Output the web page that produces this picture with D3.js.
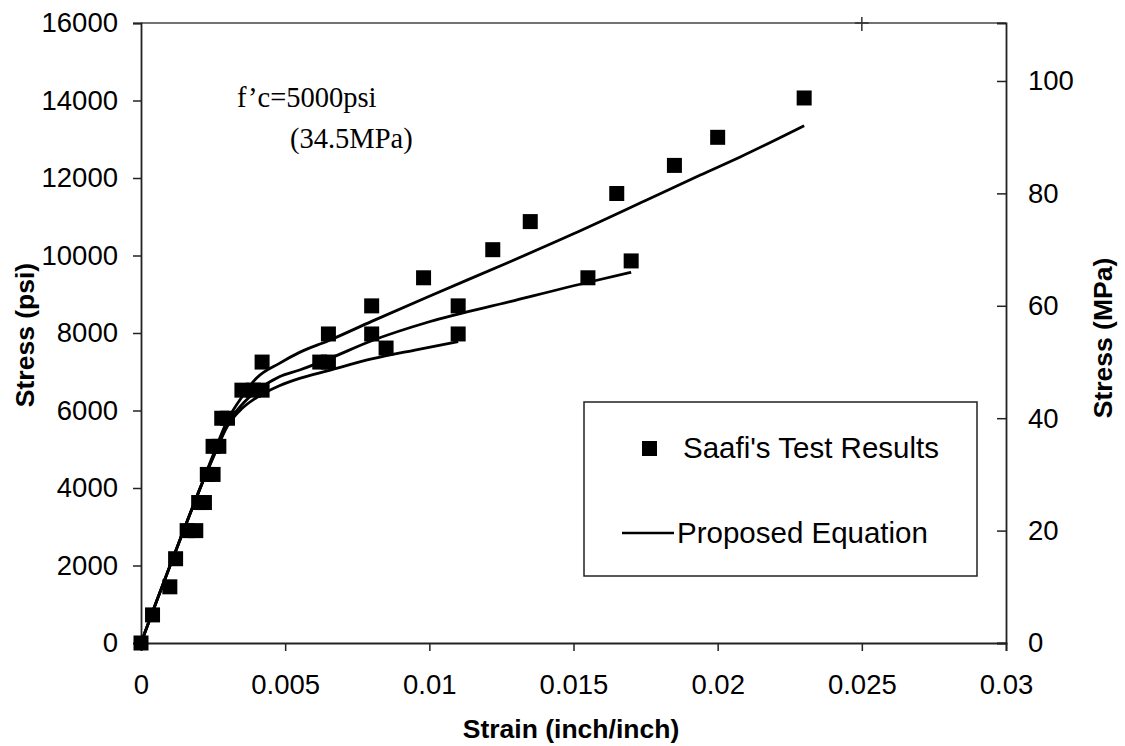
<!DOCTYPE html>
<head>
  <meta charset="utf-8">
  <script src="https://d3js.org/d3.v7.min.js"></script>
  <style>
    body { margin:0; background:#fff; }
    text { font-family: Arial, "Liberation Sans", sans-serif; }
  </style>
</head>
<body>
<script>
  // Saafi's test results (strain, psi) - three specimens
  var testA = [[0,0],[0.0004,725],[0.0010,1450],[0.0012,2175],[0.0016,2900],[0.0020,3625],
               [0.0023,4350],[0.0025,5075],[0.0028,5800],[0.0035,6525],[0.0042,7250],
               [0.0065,7975],[0.008,8700],[0.0098,9425],[0.0122,10150],[0.0135,10875],
               [0.0165,11600],[0.0185,12325],[0.020,13050],[0.023,14065]];
  var testB = [[0.0019,2900],[0.0022,3625],[0.0025,4350],[0.0027,5075],[0.0030,5800],
               [0.0039,6525],[0.0062,7250],[0.008,7975],[0.011,8700],[0.0155,9425],[0.017,9860]];
  var testC = [[0.0042,6525],[0.0065,7250],[0.0085,7612],[0.011,7975]];

  // proposed equation curves
  var curveA = [[0,0],[0.0005,1000],[0.001,1980],[0.0015,2950],[0.002,3900],[0.0025,4850],
                [0.003,5750],[0.0035,6350],[0.004,6830],[0.0048,7217],[0.0055,7500],[0.0065,7800],
                [0.008,8300],[0.010,8950],[0.0128,9840],[0.015,10560],[0.0175,11420],
                [0.0194,12077],[0.0208,12550],[0.023,13350]];
  var curveB = [[0,0],[0.0005,1000],[0.001,1980],[0.0015,2950],[0.002,3900],[0.0025,4800],
                [0.003,5650],[0.0035,6150],[0.004,6500],[0.0048,6873],[0.0055,7045],[0.0065,7330],
                [0.008,7800],[0.010,8290],[0.0128,8810],[0.0157,9342],[0.017,9566]];
  var curveC = [[0,0],[0.0005,1000],[0.001,1980],[0.0015,2950],[0.002,3900],[0.0025,4780],
                [0.003,5600],[0.0035,6050],[0.004,6330],[0.0048,6641],[0.0055,6830],[0.0065,7030],
                [0.008,7330],[0.0095,7560],[0.011,7776]];

  var xTicks = [0, 0.005, 0.01, 0.015, 0.02, 0.025, 0.03];
  var yTicks = [0, 2000, 4000, 6000, 8000, 10000, 12000, 14000, 16000];
  var mpaTicks = [0, 20, 40, 60, 80, 100];
  var psiPerMPa = 145.038;

  var width = 1125, height = 746;
  var svg = d3.select("body").append("svg")
    .attr("width", width).attr("height", height);

  var x = d3.scaleLinear().domain([0, 0.03]).range([141, 1006]);
  var y = d3.scaleLinear().domain([0, 16000]).range([643, 23]);
  var yR = d3.scaleLinear().domain([0, 16000 / psiPerMPa]).range([643, 23]);

  // top border
  svg.append("line")
    .attr("x1", x(0)).attr("x2", x(0.03))
    .attr("y1", y(16000)).attr("y2", y(16000))
    .attr("stroke", "#444").attr("stroke-width", 1.5);
  // stray tick on top
  svg.append("path")
    .attr("d", "M" + (x(0.025) - 7) + "," + y(16000) + "h14M" + x(0.025) + "," + (y(16000) - 6) + "v14")
    .attr("stroke", "#333").attr("stroke-width", 1.5);

  var axL = svg.append("g").attr("transform", "translate(" + x(0) + ",0)")
    .call(d3.axisLeft(y).tickValues(yTicks).tickSize(8).tickPadding(15).tickFormat(d3.format("d")));
  var axB = svg.append("g").attr("transform", "translate(0," + y(0) + ")")
    .call(d3.axisBottom(x).tickValues(xTicks).tickSize(8).tickPadding(23)
      .tickFormat(function(d){ return d === 0 ? "0" : String(+d.toFixed(3)); }));
  var axR = svg.append("g").attr("transform", "translate(" + x(0.03) + ",0)")
    .call(d3.axisRight(yR).tickValues(mpaTicks).tickSize(-9).tickPadding(22).tickFormat(d3.format("d")));

  [axL, axB, axR].forEach(function(g){
    g.selectAll("path.domain").attr("stroke", "#222").attr("stroke-width", 1.8);
    g.selectAll(".tick line").attr("stroke", "#222").attr("stroke-width", 1.5);
    g.selectAll("text").attr("font-size", 27.5).attr("fill", "#000")
      .style("font-family", "Arial, 'Liberation Sans', sans-serif");
  });
  axR.selectAll(".tick text").attr("x", 22);

  // axis titles
  svg.append("text").attr("x", 571).attr("y", 738).attr("text-anchor", "middle")
    .attr("font-size", 26.5).attr("font-weight", "bold").text("Strain (inch/inch)");
  svg.append("text").attr("transform", "translate(34,335) rotate(-90)").attr("text-anchor", "middle")
    .attr("font-size", 26.5).attr("font-weight", "bold").text("Stress (psi)");
  svg.append("text").attr("transform", "translate(1112,338) rotate(-90)").attr("text-anchor", "middle")
    .attr("font-size", 26.5).attr("font-weight", "bold").text("Stress (MPa)");

  // annotation
  svg.append("text").attr("x", 237).attr("y", 107)
    .style("font-family", "'Times New Roman', 'Liberation Serif', serif").attr("font-size", 28.5)
    .text("f\u2019c=5000psi");
  svg.append("text").attr("x", 290).attr("y", 148)
    .style("font-family", "'Times New Roman', 'Liberation Serif', serif").attr("font-size", 28.5)
    .text("(34.5MPa)");

  // proposed equation curves
  var line = d3.line()
    .x(function(d){ return x(d[0]); })
    .y(function(d){ return y(d[1]); })
    .curve(d3.curveMonotoneX);

  svg.append("g").selectAll("path")
    .data([curveA, curveB, curveC])
    .enter().append("path")
    .attr("d", line)
    .attr("fill", "none").attr("stroke", "#000").attr("stroke-width", 2.8);

  // test results
  var sq = 15;
  svg.append("g").selectAll("rect")
    .data(testA.concat(testB, testC))
    .enter().append("rect")
    .attr("x", function(d){ return x(d[0]) - sq / 2; })
    .attr("y", function(d){ return y(d[1]) - sq / 2; })
    .attr("width", sq).attr("height", sq)
    .attr("fill", "#000");

  // legend
  var lg = svg.append("g");
  lg.append("rect").attr("x", 584).attr("y", 402).attr("width", 393).attr("height", 174)
    .attr("fill", "#fff").attr("stroke", "#222").attr("stroke-width", 1.5);
  lg.append("rect").attr("x", 642).attr("y", 441).attr("width", 15).attr("height", 15).attr("fill", "#000");
  lg.append("text").attr("x", 683).attr("y", 458).attr("font-size", 29.5).text("Saafi's Test Results");
  lg.append("line").attr("x1", 622).attr("x2", 674).attr("y1", 533).attr("y2", 533)
    .attr("stroke", "#000").attr("stroke-width", 2.5);
  lg.append("text").attr("x", 677).attr("y", 543).attr("font-size", 29.5).text("Proposed Equation");
</script>
</body>
